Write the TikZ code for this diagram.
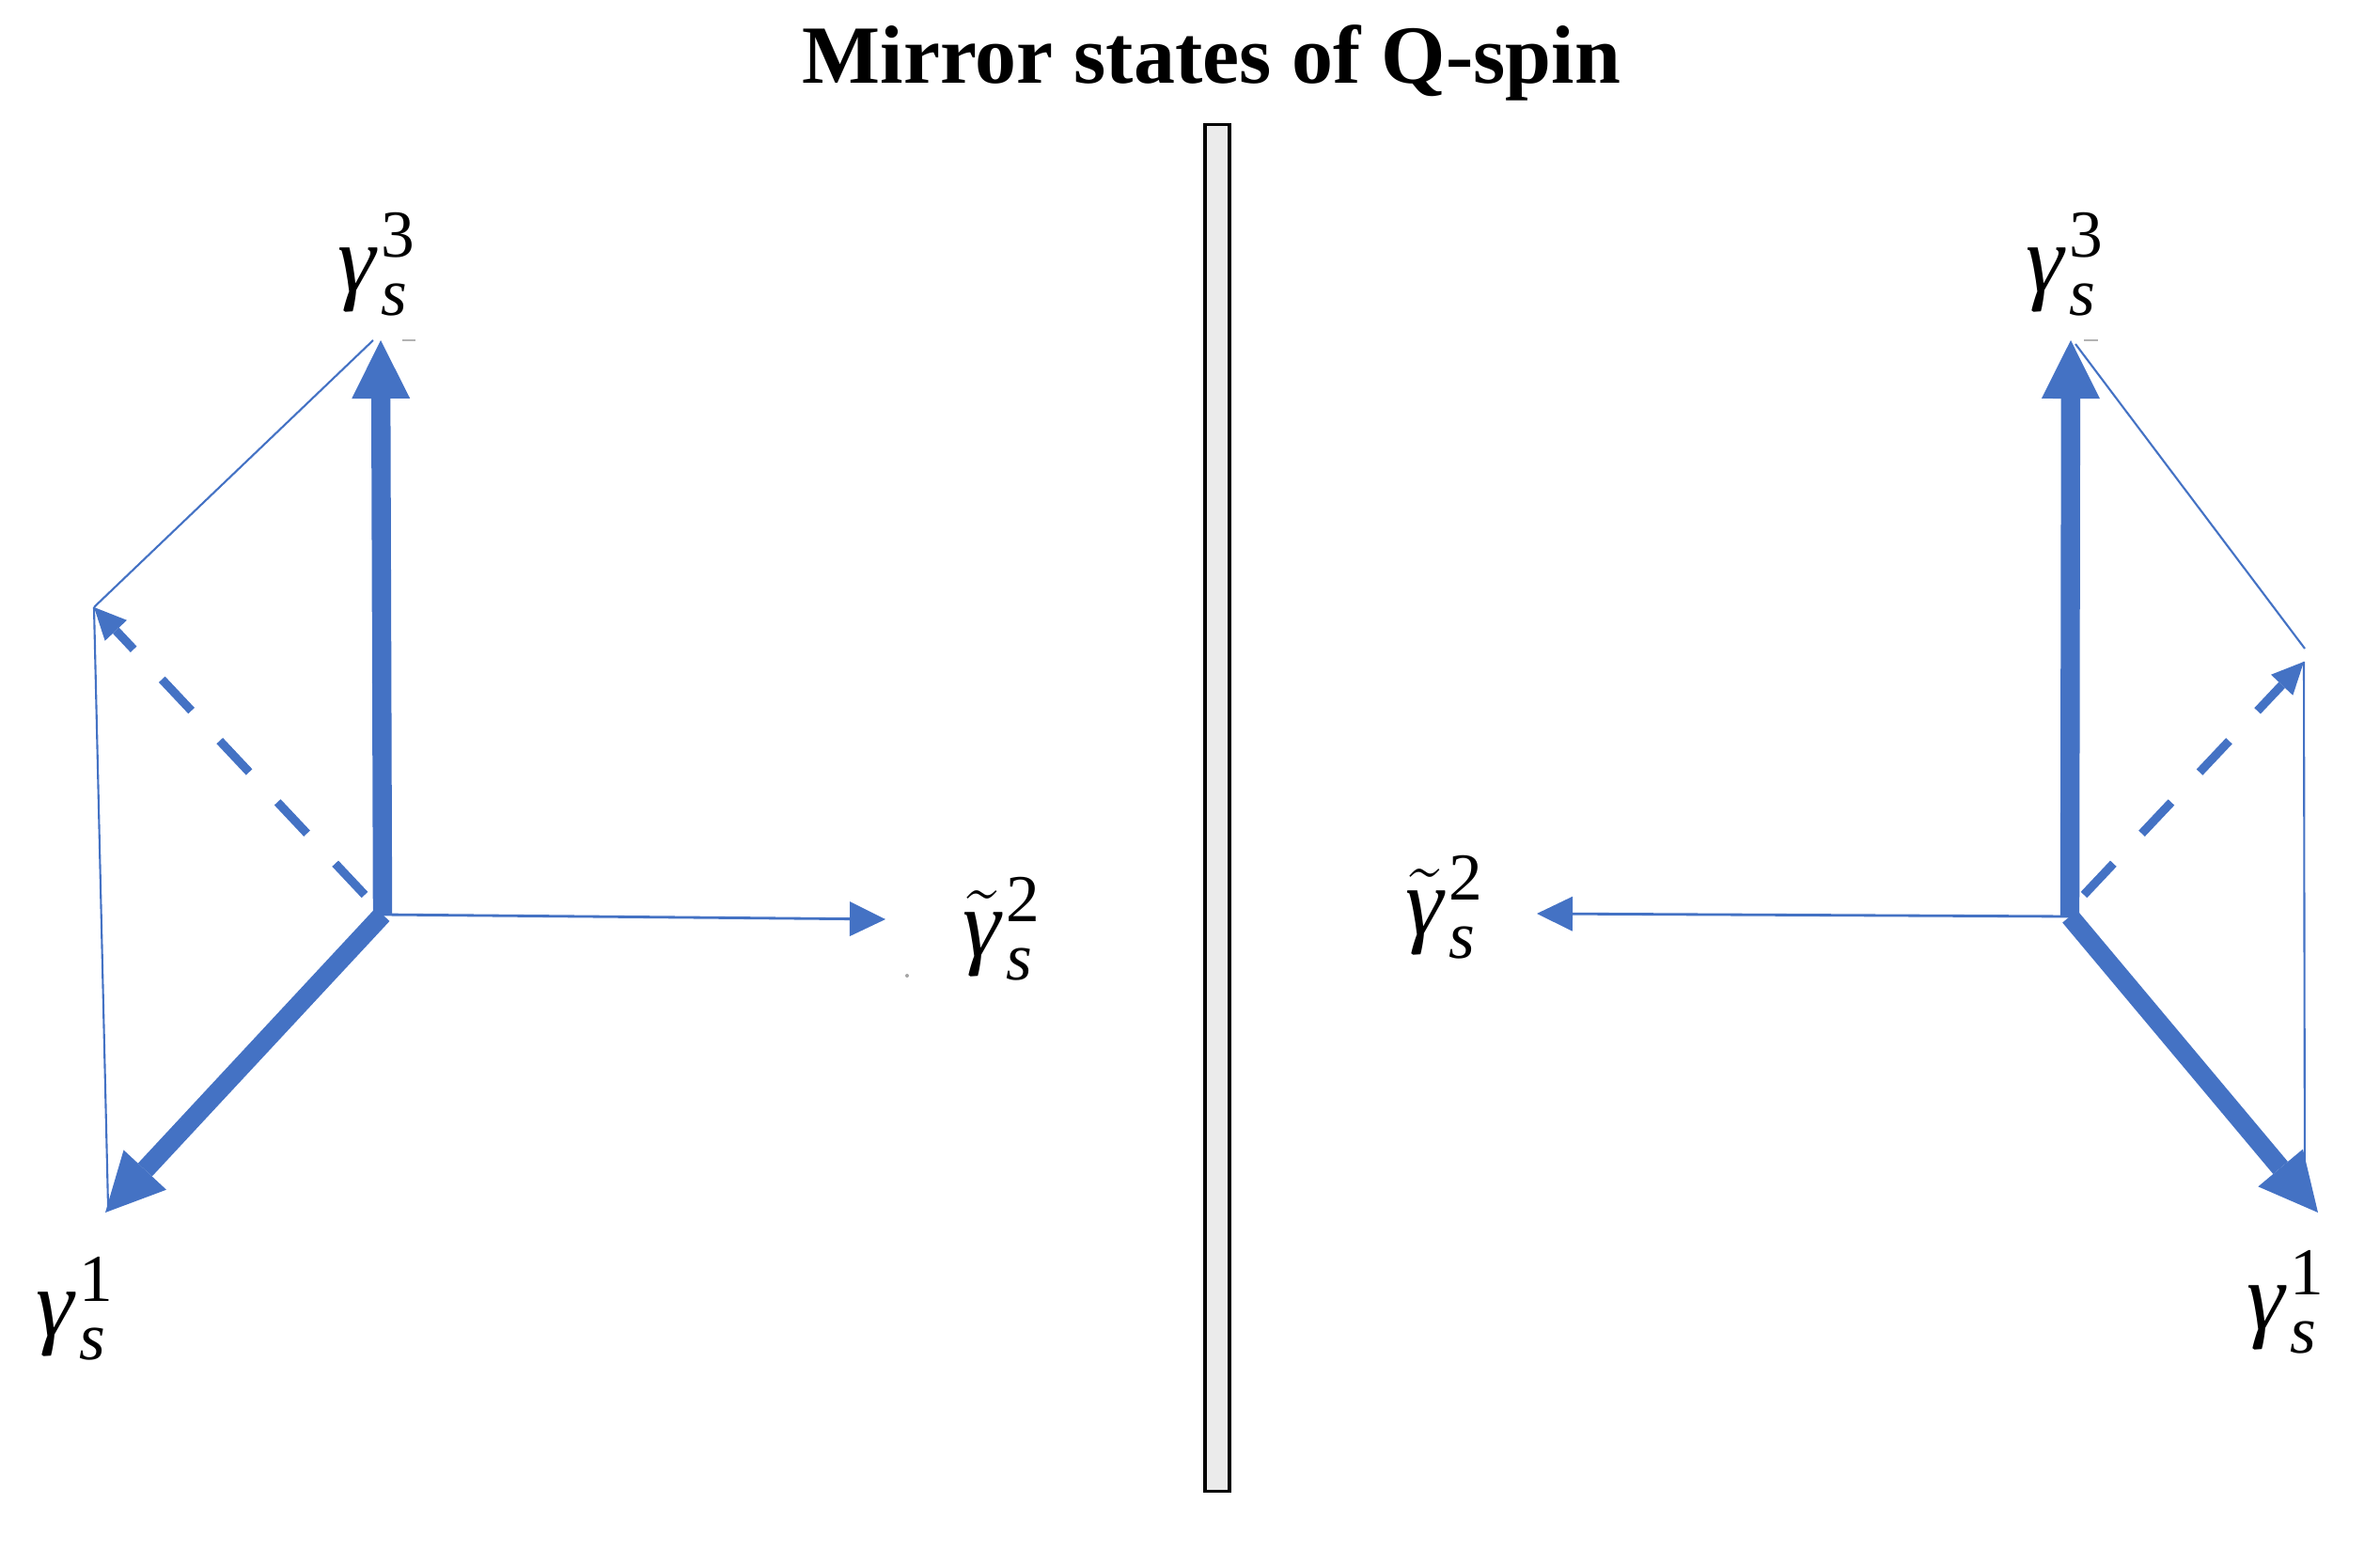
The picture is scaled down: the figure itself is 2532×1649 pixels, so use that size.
\RequirePackage{fix-cm}
\documentclass[tikz,border=0pt]{standalone}
\usepackage{amsmath}
\usepackage{fontspec}
\setmainfont{Liberation Serif}
\usetikzlibrary{arrows.meta}
\definecolor{vblue}{RGB}{68,114,196}
\newcommand{\gm}{\text{\itshape γ}\mkern1mu}
\newcommand{\tgm}{\tilde{\text{\itshape γ}}\mkern1mu}
\newcommand{\sx}{\text{\itshape s}}
\begin{document}
\begin{tikzpicture}[x=0.01cm,y=-0.01cm,
  thickarrow/.style={draw=vblue, line width=5.8pt, -{Triangle[length=0.62cm,width=0.62cm,line width=0pt]}},
  thinarrow/.style={draw=vblue, line width=0.8pt, -{Triangle[length=0.38cm,width=0.37cm,line width=0pt]}},
  dasharrow/.style={draw=vblue, line width=2.6pt, dash pattern=on 13pt off 12.5pt, -{Triangle[length=0.34cm,width=0.32cm,line width=0pt]}},
  edgeline/.style={draw=vblue, line width=0.6pt},
  lab/.style={inner sep=0pt, font=\fontsize{29}{34}\selectfont}]
\useasboundingbox (0,0) rectangle (2532,1649);

% title
\node[anchor=base, font=\fontsize{25}{30}\selectfont\bfseries] (title) at (1289,89) {Mirror states of Q-spin};

% mirror
\node[draw, line width=0.9pt, fill=black!8, minimum width=0.26cm, minimum height=14.53cm, inner sep=0pt] (mirror) at (1295,859.5) {};

% ---------- left system ----------
\coordinate (OL) at (407,973);
\coordinate (L3) at (405,362);
\coordinate (L1) at (112,1290);
\coordinate (L2) at (942,978);
\coordinate (LD) at (100,646);
\coordinate (LDs) at (388,952);
\coordinate (LT) at (397,362);
\coordinate (LB) at (115,1283);

\draw[edgeline] (LD) -- (LT);
\draw[edgeline] (LD) -- (LB);
\draw[thinarrow] (OL) -- (L2);
\draw[dasharrow] (LDs) -- (LD);
\draw[thickarrow] (OL) -- (L3);
\draw[thickarrow] (OL) -- (L1);
\draw[gray!60, line width=0.6pt] (428,362) -- (442,362);

\node[lab] (l3) at (401,281) {$\gm^{\text{3}}_{\sx}$};
\node[lab] (l1) at (80,1392) {$\gm^{\text{1}}_{\sx}$};
\node[lab] (l2) at (1066,988) {$\tgm^{\text{2}}_{\sx}$};
\fill[gray!70] (965,1038) circle (2);

% ---------- right system ----------
\coordinate (OR) at (2202,975);
\coordinate (R3) at (2203,362);
\coordinate (R1) at (2466,1290);
\coordinate (R2) at (1635,972);
\coordinate (RD) at (2451,704);
\coordinate (RDs) at (2217,952);
\coordinate (RT) at (2208,366);
\coordinate (RK) at (2452,690);
\coordinate (RB) at (2452,1282);

\draw[edgeline] (RK) -- (RT);
\draw[edgeline] (RD) -- (RB);
\draw[thinarrow] (OR) -- (R2);
\draw[dasharrow] (RDs) -- (RD);
\draw[thickarrow] (OR) -- (R3);
\draw[thickarrow] (OR) -- (R1);
\draw[gray!60, line width=0.6pt] (2217,362) -- (2232,362);

\node[lab] (r3) at (2197,281) {$\gm^{\text{3}}_{\sx}$};
\node[lab] (r1) at (2432,1385) {$\gm^{\text{1}}_{\sx}$};
\node[lab] (r2) at (1537,965) {$\tgm^{\text{2}}_{\sx}$};
\end{tikzpicture}
\end{document}
